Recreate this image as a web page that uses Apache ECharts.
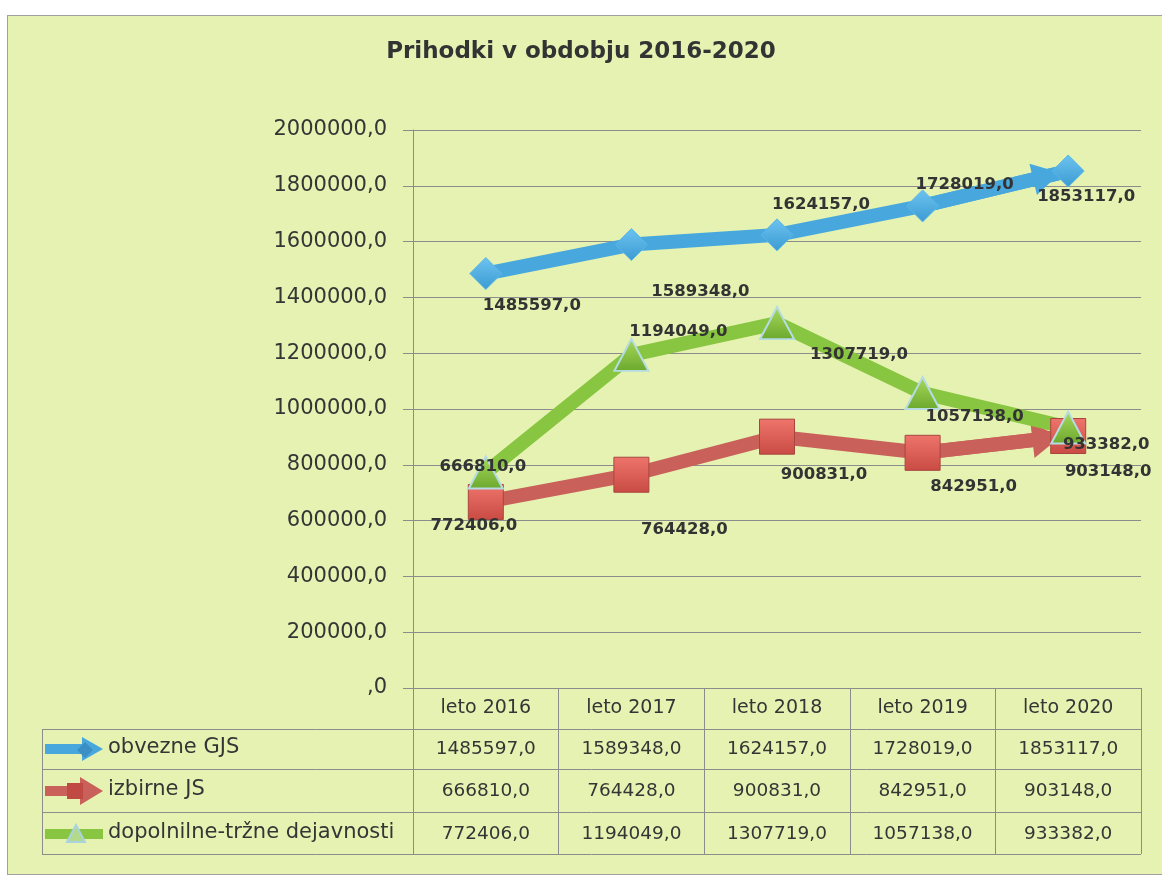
<!DOCTYPE html>
<html>
<head>
<meta charset="utf-8">
<title>Prihodki v obdobju 2016-2020</title>
<script src="https://cdn.jsdelivr.net/npm/echarts@6/dist/echarts.min.js"></script>
<style>
  html, body { margin: 0; padding: 0; background: #fff; }
  .frame {
    position: absolute; left: 7px; top: 15px;
    width: 1160px; height: 858px;
    background: #e5f2b2; border: 1px solid #a0a0a0;
  }
  #container {
    position: absolute; left: 0; top: 0;
    width: 1162px; height: 877px;
  }
</style>
</head>
<body>
<div class="frame"></div>
<div id="container"></div>
<script>
// data
const categories = ['leto 2016', 'leto 2017', 'leto 2018', 'leto 2019', 'leto 2020']
const seriesNames = ['obvezne GJS', 'izbirne JS', 'dopolnilne-tržne dejavnosti']
const obvezneGJS = [1485597, 1589348, 1624157, 1728019, 1853117]
const izbirneJS = [666810, 764428, 900831, 842951, 903148]
const dopolnilne = [772406, 1194049, 1307719, 1057138, 933382]

// where excel dropped the value labels (px from the marker)
const blueLabelOffset = [[46, 32], [69, 47], [44, -30], [42, -21], [18, 26]]
const redLabelOffset = [[-3, -35], [53, 55], [47, 38], [51, 34], [40, 36]]
const greenLabelOffset = [[-12, 53], [47, -23], [82, 32], [52, 24], [38, 17]]

const font = 'DejaVu Sans'
const gridColor = '#8c8c8c'
const textColor = '#353535'
const blue = '#48a8de'
const red = '#c9615a'
const green = '#88c540'

const fmt = v => (v === 0 ? ',0' : v + ',0')

// table rows (center y) for legend keys
const rowCenters = [749, 791, 834]

function withLabels(values, offsets) {
  return values.map((v, i) => ({
    value: v,
    label: { offset: offsets[i] }
  }))
}

// arrow head on the last segment
function arrowEnd(values, color, size) {
  const n = values.length
  return {
    silent: true,
    animation: false,
    z: 1,
    symbol: ['none', 'triangle'],
    symbolSize: size,
    symbolOffset: [0, [0, 22]],
    label: { show: false },
    lineStyle: { color: color, width: 14, type: 'solid', opacity: 1 },
    itemStyle: { color: color },
    emphasis: { disabled: true },
    data: [[
      { coord: [categories[n - 2], values[n - 2]] },
      { coord: [categories[n - 1], values[n - 1]] }
    ]]
  }
}

function tableAxis(values, margin) {
  return {
    type: 'category',
    gridIndex: 0,
    position: 'bottom',
    data: categories,
    axisLine: { show: false },
    axisTick: { show: false },
    splitLine: { show: false },
    axisLabel: {
      interval: 0,
      margin: margin,
      verticalAlign: 'middle',
      fontSize: 18.5,
      fontFamily: font,
      color: textColor,
      formatter: (v, i) => fmt(values[i])
    }
  }
}

const dataLabel = {
  show: true,
  position: 'inside',
  align: 'center',
  verticalAlign: 'middle',
  fontFamily: font,
  fontWeight: 'bold',
  fontSize: 16.5,
  color: '#333',
  formatter: p => fmt(p.value)
}

function hline(y) {
  return {
    type: 'line', silent: true,
    shape: { x1: 42, y1: y + 0.5, x2: 1141, y2: y + 0.5 },
    style: { stroke: gridColor, lineWidth: 1 }
  }
}

function poly(points, style) {
  return { type: 'polygon', silent: true, z: 10, shape: { points: points }, style: style }
}

// legend keys (drawn like the excel data table keys)
function legendKeys() {
  const [a, b, c] = rowCenters
  return [
    poly([[45, a - 5], [82, a - 5], [82, a - 12], [103, a], [82, a + 12], [82, a + 5], [45, a + 5]], { fill: blue }),
    poly([[85, a - 7], [93, a + 1], [85, a + 9], [77, a + 1]], { fill: '#3b8fc4' }),
    poly([[45, b - 5], [80, b - 5], [80, b - 14], [103, b], [80, b + 14], [80, b + 5], [45, b + 5]], { fill: red }),
    poly([[67, b - 8], [83, b - 8], [83, b + 8], [67, b + 8]], { fill: '#c04a43' }),
    poly([[45, c - 5], [103, c - 5], [103, c + 5], [45, c + 5]], { fill: green }),
    poly([[76, c - 9], [85, c + 8], [67, c + 8]], { fill: '#b3d98a', stroke: '#a9d3e0', lineWidth: 2 })
  ]
}

var myChart = echarts.init(document.getElementById('container'))

myChart.setOption({
  animation: false,
  title: {
    text: 'Prihodki v obdobju 2016-2020',
    left: 'center',
    top: 36,
    textStyle: { fontFamily: font, fontSize: 23, fontWeight: 'bold', color: '#333' }
  },
  legend: seriesNames.map((name, i) => ({
    data: [name],
    left: 45,
    top: rowCenters[i] - 12,
    padding: 0,
    itemWidth: 57,
    itemHeight: 24,
    selectedMode: false,
    itemStyle: { opacity: 0 },
    lineStyle: { opacity: 0 },
    textStyle: { fontFamily: font, fontSize: 21, color: textColor }
  })),
  grid: { left: 413, right: 21, top: 130, bottom: 189 },
  xAxis: [
    {
      type: 'category',
      data: categories,
      boundaryGap: true,
      axisLine: { show: true, lineStyle: { color: gridColor } },
      axisTick: { show: true, length: 166, lineStyle: { color: gridColor } },
      axisLabel: {
        interval: 0,
        margin: 20,
        verticalAlign: 'middle',
        fontSize: 19,
        fontFamily: font,
        color: textColor
      }
    },
    tableAxis(obvezneGJS, 61),
    tableAxis(izbirneJS, 103),
    tableAxis(dopolnilne, 146)
  ],
  yAxis: {
    type: 'value',
    min: 0,
    max: 2000000,
    interval: 200000,
    axisLine: { show: true, lineStyle: { color: gridColor } },
    axisTick: { show: true, length: 10, lineStyle: { color: gridColor } },
    splitLine: { lineStyle: { color: gridColor } },
    axisLabel: {
      margin: 26,
      fontSize: 21,
      fontFamily: font,
      color: textColor,
      formatter: v => fmt(v)
    }
  },
  graphic: [
    hline(729), hline(769), hline(812), hline(854),
    {
      type: 'line', silent: true,
      shape: { x1: 42.5, y1: 729, x2: 42.5, y2: 854 },
      style: { stroke: gridColor, lineWidth: 1 }
    }
  ].concat(legendKeys()),
  series: [
    {
      name: seriesNames[0],
      type: 'line',
      data: withLabels(obvezneGJS, blueLabelOffset),
      symbol: 'diamond',
      symbolSize: 32,
      lineStyle: { color: blue, width: 14 },
      itemStyle: {
        color: new echarts.graphic.LinearGradient(0, 0, 0, 1, [
          { offset: 0, color: '#6cc3f0' },
          { offset: 1, color: '#3c9bd2' }
        ]),
        borderColor: '#5ab6e8',
        borderWidth: 1
      },
      label: dataLabel,
      markLine: arrowEnd(obvezneGJS, blue, [32, 28]),
      z: 2
    },
    {
      name: seriesNames[1],
      type: 'line',
      data: withLabels(izbirneJS, redLabelOffset),
      symbol: 'rect',
      symbolSize: 35,
      lineStyle: { color: red, width: 14 },
      itemStyle: {
        color: new echarts.graphic.LinearGradient(0, 0, 0, 1, [
          { offset: 0, color: '#ee756c' },
          { offset: 1, color: '#c94b43' }
        ]),
        borderColor: '#a8453f',
        borderWidth: 1
      },
      label: dataLabel,
      markLine: arrowEnd(izbirneJS, red, [36, 28]),
      z: 2
    },
    {
      name: seriesNames[2],
      type: 'line',
      data: withLabels(dopolnilne, greenLabelOffset),
      symbol: 'triangle',
      symbolSize: [34, 32],
      lineStyle: { color: green, width: 14 },
      itemStyle: {
        color: new echarts.graphic.LinearGradient(0, 0, 0, 1, [
          { offset: 0, color: '#a9d95c' },
          { offset: 1, color: '#6aa82c' }
        ]),
        borderColor: '#b5dbe3',
        borderWidth: 2
      },
      label: dataLabel,
      z: 2
    }
  ]
})
</script>
</body>
</html>
